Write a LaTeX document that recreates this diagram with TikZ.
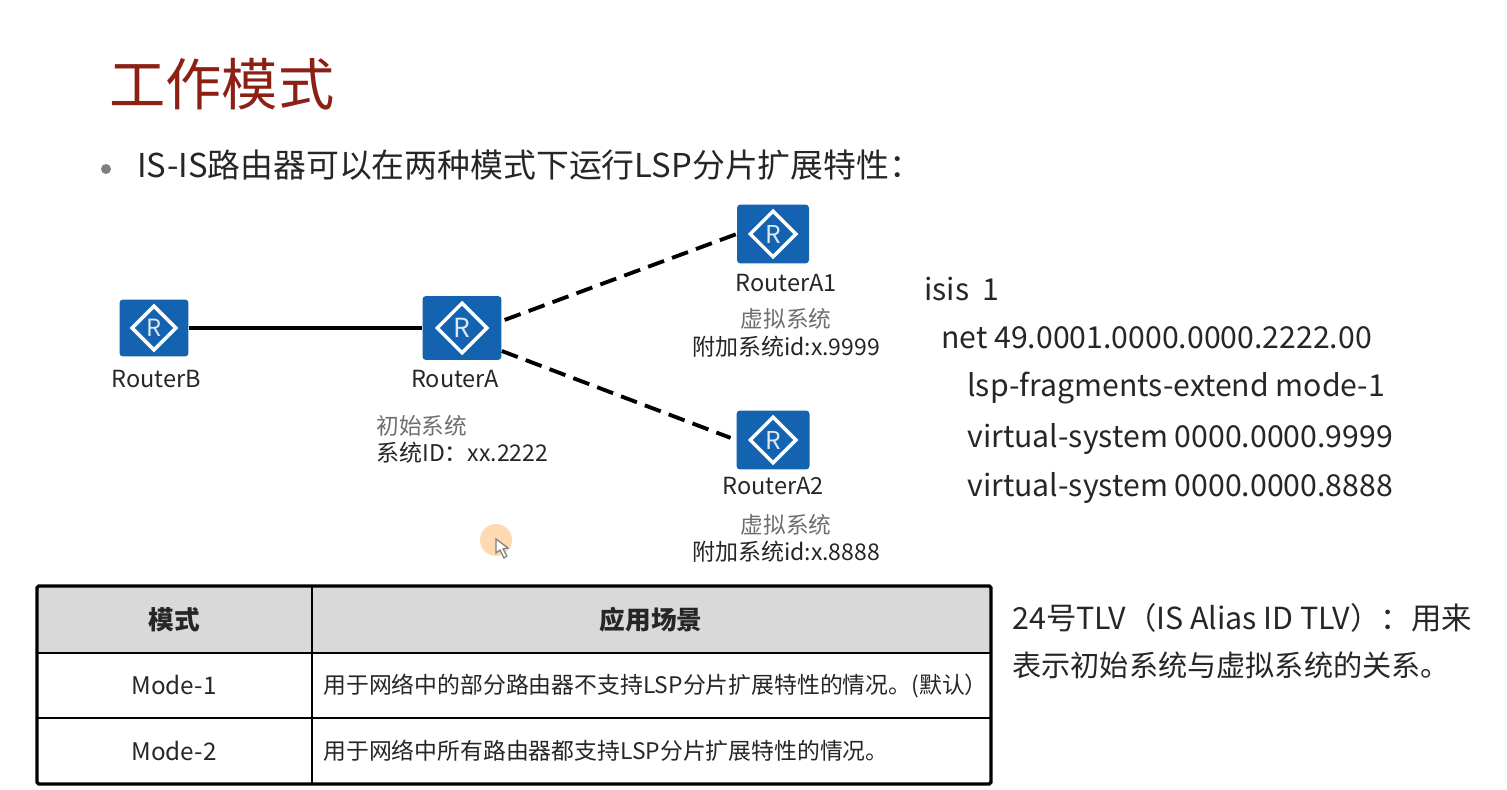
\documentclass[tikz,border=0pt]{standalone}
\usepackage{fontspec}
\setmainfont{Noto Sans CJK SC}
\usepackage{tikz}
\usetikzlibrary{shapes.geometric}
\definecolor{titlered}{HTML}{8C2015}
\definecolor{routerblue}{HTML}{1463B0}
\definecolor{headgray}{HTML}{D9D9D9}
\definecolor{graytext}{HTML}{6E6E6E}
\definecolor{bodytext}{HTML}{262626}
\tikzset{
  routerbox/.style={fill=routerblue,rounded corners=2pt,inner sep=0pt},
  routermark/.style={diamond,draw=white,line width=2pt,aspect=1,inner sep=0pt,text=white!85!routerblue},
  routerlink/.style={line width=2.2pt,dash pattern=on 0.34cm off 0.17cm},
  routername/.style={font=\fontsize{13.4}{15}\selectfont,text=bodytext},
  routernote/.style={font=\fontsize{13.1}{15}\selectfont,text=bodytext},
  routergray/.style={font=\fontsize{12.9}{15}\selectfont,text=graytext},
  codeline/.style={anchor=west,font=\fontsize{17.2}{20}\selectfont,text=bodytext},
  cellhead/.style={font=\bfseries\fontsize{14.6}{16}\selectfont,text=bodytext},
  celltext/.style={font=\fontsize{13}{15}\selectfont,text=bodytext},
  noteline/.style={anchor=west,text=bodytext},
}
\begin{document}
\begin{tikzpicture}[x=0.02cm,y=-0.02cm]
  \useasboundingbox (0,0) rectangle (1507,790);

  \node[anchor=west,font=\fontsize{32}{36}\selectfont,text=titlered,inner sep=0pt] (title) at (109,84) {工作模式};
  \node[circle,fill=gray,inner sep=0pt,minimum size=0.2cm] (bullet) at (106,169) {};
  \node[anchor=west,font=\fontsize{18.7}{22}\selectfont,text=bodytext,inner sep=0pt] (lead) at (137,165) {IS-IS路由器可以在两种模式下运行LSP分片扩展特性：};

  % routers
  \node[routerbox,minimum width=1.38cm,minimum height=1.14cm] (routerB) at (154,328) {};
  \node[routerbox,minimum width=1.58cm,minimum height=1.28cm] (routerA) at (462,328) {};
  \node[routerbox,minimum width=1.44cm,minimum height=1.18cm] (routerAa) at (773,234) {};
  \node[routerbox,minimum width=1.46cm,minimum height=1.18cm] (routerAb) at (773,440) {};
  \node[routermark,minimum size=0.9cm,font=\fontsize{13.5}{13}\selectfont] (markB) at (routerB) {R};
  \node[routermark,minimum size=1.02cm,font=\fontsize{15}{15}\selectfont] (markA) at (routerA) {R};
  \node[routermark,minimum size=0.94cm,font=\fontsize{14}{14}\selectfont] (markAa) at (routerAa) {R};
  \node[routermark,minimum size=0.94cm,font=\fontsize{14}{14}\selectfont] (markAb) at (routerAb) {R};

  \draw[line width=2.2pt] (routerB) -- (routerA);
  \draw[routerlink,shorten <=0.06cm] (routerA.10) -- (routerAa.west);
  \draw[routerlink,shorten >=0.12cm] (routerA.-30) -- (routerAb.west);

  \node[routername] (nameB) at (156,379) {RouterB};
  \node[routername] (nameA) at (455,379) {RouterA};
  \node[routername] (nameAa) at (786,283) {RouterA1};
  \node[routername] (nameAb) at (773,486) {RouterA2};

  \node[routergray,anchor=west,inner sep=0pt] (initA) at (376,426) {初始系统};
  \node[routernote,anchor=west,inner sep=0pt] (idA) at (376,453) {系统ID：xx.2222};
  \node[routergray] (virtAa) at (786,319) {虚拟系统};
  \node[routernote] (idAa) at (786,347) {附加系统id:x.9999};
  \node[routergray] (virtAb) at (786,525) {虚拟系统};
  \node[routernote] (idAb) at (786,552) {附加系统id:x.8888};

  % config
  \node[codeline,inner sep=0pt] (cfgA) at (924,289) {isis\ \ 1};
  \node[codeline,inner sep=0pt] (cfgB) at (941,338) {net 49.0001.0000.0000.2222.00};
  \node[codeline,inner sep=0pt] (cfgC) at (967,388) {lsp-fragments-extend mode-1};
  \node[codeline,inner sep=0pt] (cfgD) at (967,439) {virtual-system 0000.0000.9999};
  \node[codeline,inner sep=0pt] (cfgE) at (967,488) {virtual-system 0000.0000.8888};

  % cursor
  \node[circle,fill=orange!30!white,inner sep=0pt,minimum size=0.64cm] (halo) at (496,540) {};
  \draw[fill=white,draw=gray,line width=0.7pt] (496,539) -- (496,553) -- (500,550) -- (504,558) -- (507,556) -- (503,549) -- (508,548) -- cycle;

  % table
  \fill[headgray] (37,586) rectangle (991,653);
  \draw[line width=1.3pt] (37,653) -- (991,653);
  \draw[line width=1.3pt] (37,718) -- (991,718);
  \draw[line width=1.3pt] (312,586) -- (312,784);
  \draw[line width=1.9pt,rounded corners=1pt] (37,586) rectangle (991,784);

  \node[cellhead] (headA) at (174,620) {模式};
  \node[cellhead] (headB) at (651,620) {应用场景};
  \node[routername,font=\fontsize{13.8}{15}\selectfont] (modeA) at (174,685) {Mode-1};
  \node[routername,font=\fontsize{13.8}{15}\selectfont] (modeB) at (174,751) {Mode-2};
  \node[celltext,anchor=west,inner sep=0pt] (useA) at (323,686) {用于网络中的部分路由器不支持LSP分片扩展特性的情况。(默认）};
  \node[celltext,anchor=west,inner sep=0pt] (useB) at (323,751) {用于网络中所有路由器都支持LSP分片扩展特性的情况。};

  % note
  \node[noteline,font=\fontsize{17.3}{20}\selectfont,inner sep=0pt] (noteA) at (1012,618) {24号TLV（IS Alias ID TLV）：用来};
  \node[noteline,font=\fontsize{16.6}{20}\selectfont,inner sep=0pt] (noteB) at (1012,665) {表示初始系统与虚拟系统的关系。};
\end{tikzpicture}
\end{document}
